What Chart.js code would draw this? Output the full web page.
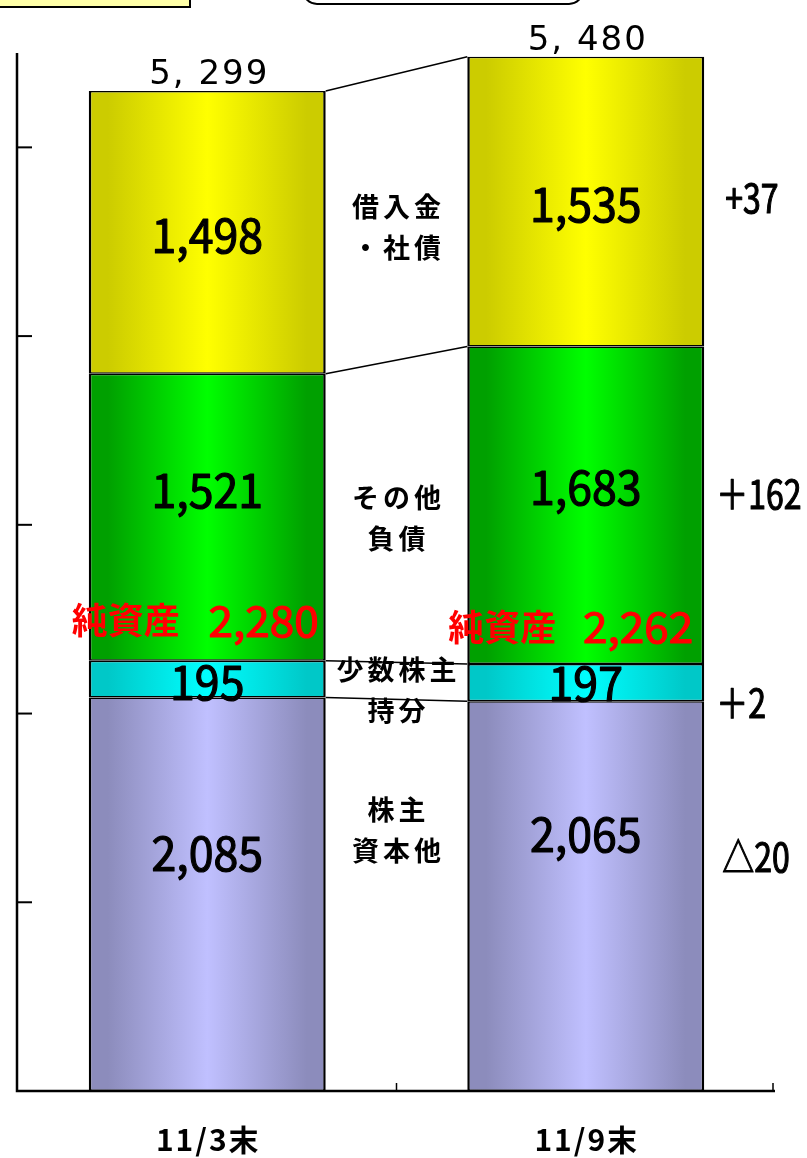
<!DOCTYPE html>
<html>
<head>
<meta charset="utf-8">
<script src="https://cdn.jsdelivr.net/npm/chart.js@4.4.0/dist/chart.umd.min.js"></script>
<style>
body { margin: 0; background: #fff; }
#wrap { width: 807px; height: 1158px; }
</style>
</head>
<body>
<div id="wrap"><canvas id="grafico" width="807" height="1158"></canvas></div>
<script>
// dados (unidade: valores do balanço)
var categorias = ['11/3末', '11/9末'];
var kabunushi = [2085, 2065];   // 株主資本他
var shosu = [195, 197];         // 少数株主持分
var sonota = [1521, 1683];      // その他負債
var kariire = [1498, 1535];     // 借入金・社債
var totais = ['5, 299', '5, 480'];
var junshisan = ['2,280', '2,262'];
var variacao = ['△20', '＋2', '＋162', '+37'];
var nomes = [['株主', '資本他'], ['少数株主', '持分'], ['その他', '負債'], ['借入金', '・社債']];
var yTicks = [1000, 2000, 3000, 4000, 5000];
var yMax = 5500;

var FONTE = '"Noto Sans CJK JP", "Noto Sans", sans-serif';
var LARG = 0.626;

function escreve(ctx, s, x, y, tam, cor, peso, alinhar, sx, esp, fonte, contorno) {
    ctx.save();
    ctx.font = peso + ' ' + tam + 'px ' + (fonte || FONTE);
    ctx.fillStyle = cor;
    ctx.textBaseline = 'middle';
    ctx.textAlign = alinhar || 'center';
    if (esp) ctx.letterSpacing = esp + 'px';
    ctx.translate(x, y);
    ctx.scale(sx || 1, 1);
    ctx.fillText(s, 0, 0);
    if (contorno) {
        ctx.strokeStyle = cor;
        ctx.lineWidth = contorno;
        ctx.lineJoin = 'round';
        ctx.strokeText(s, 0, 0);
    }
    ctx.restore();
}

function degrade(borda, meio) {
    return function (c) {
        var ch = c.chart;
        if (!ch.chartArea) return meio;
        var xs = ch.scales.x;
        var cx = xs.getPixelForValue(c.dataIndex);
        var meia = xs.width / categorias.length * LARG / 2;
        var g = ch.ctx.createLinearGradient(cx - meia, 0, cx + meia, 0);
        g.addColorStop(0, borda);
        g.addColorStop(0.08, borda);
        g.addColorStop(0.5, meio);
        g.addColorStop(0.92, borda);
        g.addColorStop(1, borda);
        return g;
    };
}

// ajustes finos de posição dos textos (px)
var ajusteValor = [[-41, -62], [3, 0], [-27, -18], [3, 3]];
var ajusteVar = [-39, 20, -11, -4];
var ajusteVarX = [6, 0, 0, 9];
var ajusteNome = [-65, 9, 7, 10];

var desenhos = {
    id: 'desenhos',
    beforeDraw: function (chart) {
        var ctx = chart.ctx;
        ctx.save();
        ctx.fillStyle = '#fff';
        ctx.fillRect(0, 0, chart.width, chart.height);
        // caixas cortadas no topo
        ctx.fillStyle = '#FFFFA8';
        ctx.strokeStyle = '#000';
        ctx.lineWidth = 2;
        ctx.fillRect(-4, -4, 194, 11);
        ctx.strokeRect(-4, -4, 194, 11);
        ctx.beginPath();
        ctx.roundRect(303, -30, 280, 34, 14);
        ctx.stroke();
        ctx.restore();
    },
    afterDatasetsDraw: function (chart) {
        var ctx = chart.ctx;
        var area = chart.chartArea;
        var xs = chart.scales.x;
        var ys = chart.scales.y;

        // linhas de ligação entre as barras
        ctx.save();
        ctx.strokeStyle = '#000';
        ctx.lineWidth = 1.5;
        for (var d = 0; d < chart.data.datasets.length; d++) {
            var m = chart.getDatasetMeta(d).data;
            ctx.beginPath();
            ctx.moveTo(m[0].x + m[0].width / 2, m[0].y);
            ctx.lineTo(m[1].x - m[1].width / 2, m[1].y);
            ctx.stroke();
        }

        // eixos
        ctx.lineWidth = 2.5;
        ctx.beginPath();
        ctx.moveTo(area.left - 1, area.top);
        ctx.lineTo(area.left - 1, area.bottom);
        ctx.lineTo(area.right, area.bottom);
        ctx.stroke();
        ctx.lineWidth = 2;
        yTicks.forEach(function (v) {
            var py = ys.getPixelForValue(v);
            ctx.beginPath();
            ctx.moveTo(area.left, py);
            ctx.lineTo(area.left + 14, py);
            ctx.stroke();
        });
        var divisa = [(xs.getPixelForValue(0) + xs.getPixelForValue(1)) / 2, area.right - 2];
        ctx.lineWidth = 1.5;
        divisa.forEach(function (px) {
            ctx.beginPath();
            ctx.moveTo(px, area.bottom);
            ctx.lineTo(px, area.bottom - 8);
            ctx.stroke();
        });
        ctx.restore();

        // valores dentro das barras
        for (var d2 = 0; d2 < chart.data.datasets.length; d2++) {
            var els = chart.getDatasetMeta(d2).data;
            var valores = chart.data.datasets[d2].data;
            for (var i = 0; i < els.length; i++) {
                var el = els[i];
                var cy = (el.y + el.base) / 2 + ajusteValor[d2][i];
                escreve(ctx, valores[i].toLocaleString('en-US'), el.x, cy, 47, '#000', 'normal', 'center', 0.95, 0, null, 1.2);
            }
        }

        // totais acima das barras
        var topo = chart.getDatasetMeta(3).data;
        for (var t = 0; t < topo.length; t++) {
            escreve(ctx, totais[t], topo[t].x + 2, topo[t].y - 16, 34, '#000', 'normal', 'center', 1, 2, '"DejaVu Sans", sans-serif');
        }

        // 純資産
        var ciano = chart.getDatasetMeta(1).data;
        for (var j = 0; j < ciano.length; j++) {
            var b = ciano[j];
            var yy = b.y - 40 + j * 3;
            escreve(ctx, '純資産', b.x - b.width / 2 - 17 - j * 2, yy, 36, '#FF0000', 'bold', 'left', 1);
            escreve(ctx, junshisan[j], b.x + b.width / 2 - 7 - j * 4, yy, 42, '#FF0000', 'normal', 'right', 1.05, 0, null, 1.2);
        }

        // nomes no meio
        var meioX = (xs.getPixelForValue(0) + xs.getPixelForValue(1)) / 2 + 2;
        for (var n = 0; n < nomes.length; n++) {
            var a = chart.getDatasetMeta(n).data;
            var c = ((a[0].y + a[0].base) / 2 + (a[1].y + a[1].base) / 2) / 2 + ajusteNome[n];
            escreve(ctx, nomes[n][0], meioX, c - 20, 27, '#000', 'bold', 'center', 1, 4);
            escreve(ctx, nomes[n][1], meioX, c + 21, 27, '#000', 'bold', 'center', 1, 4);
        }

        // variação à direita
        for (var k = 0; k < variacao.length; k++) {
            var e = chart.getDatasetMeta(k).data[1];
            var vy = (e.y + e.base) / 2 + ajusteVar[k];
            escreve(ctx, variacao[k], e.x + e.width / 2 + 12 + ajusteVarX[k], vy, 40, '#000', 'normal', 'left', 0.8, 0, null, 1.2);
        }

        // rótulos das categorias
        for (var q = 0; q < categorias.length; q++) {
            escreve(ctx, categorias[q], xs.getPixelForValue(q) + 1, area.bottom + 49, 30, '#000', 'bold', 'center', 1, 2);
        }
    }
};

var borda = { top: 1.5, bottom: 1.5, left: 2.5, right: 2.5 };

var grafico = new Chart(document.getElementById('grafico').getContext('2d'), {
    type: 'bar',
    data: {
        labels: categorias,
        datasets: [{
            label: '株主資本他',
            data: kabunushi,
            backgroundColor: degrade('#8C8CBC', '#C0C0FF'),
            borderColor: '#000',
            borderWidth: borda,
            borderSkipped: false
        }, {
            label: '少数株主持分',
            data: shosu,
            backgroundColor: degrade('#00C8C8', '#00FFFF'),
            borderColor: '#000',
            borderWidth: borda,
            borderSkipped: false
        }, {
            label: 'その他負債',
            data: sonota,
            backgroundColor: degrade('#00A000', '#00FF00'),
            borderColor: '#000',
            borderWidth: borda,
            borderSkipped: false
        }, {
            label: '借入金・社債',
            data: kariire,
            backgroundColor: degrade('#CCCC00', '#FFFF00'),
            borderColor: '#000',
            borderWidth: borda,
            borderSkipped: false
        }]
    },
    options: {
        responsive: false,
        animation: false,
        categoryPercentage: 1,
        barPercentage: LARG,
        layout: { padding: { left: 18, right: 32, top: 53, bottom: 67 } },
        plugins: {
            legend: { display: false },
            tooltip: { enabled: false }
        },
        scales: {
            x: { display: false, stacked: true, offset: true },
            y: { display: false, stacked: true, min: 0, max: yMax }
        }
    },
    plugins: [desenhos]
});
</script>
</body>
</html>
